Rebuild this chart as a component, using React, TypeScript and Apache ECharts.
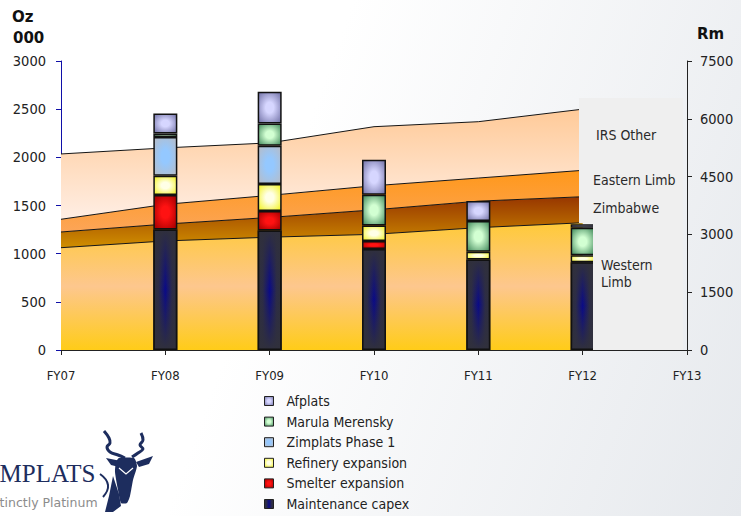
import React, { useEffect, useRef } from 'react';
import * as echarts from 'echarts';

// Financial years on the shared category axis
const categories = ['FY07', 'FY08', 'FY09', 'FY10', 'FY11', 'FY12', 'FY13'];

// Attributable production by region (000 oz), stacked areas
const westernLimb = [1062, 1132, 1171, 1201, 1270, 1321, null];
const zimbabwe = [163, 175, 205, 254, 275, 270, null];
const easternLimb = [132, 205, 229, 250, 240, 274, null];
const irsOther = [678, 586, 545, 613, 585, 635, null];

// Capital expenditure by project (Rm), stacked bars
const maintenanceCapex = [null, 3130, 3100, 2620, 2350, 2280, null];
const smelterExpansion = [null, 890, 510, 210, 0, 0, null];
const refineryExpansion = [null, 500, 700, 400, 200, 180, null];
const zimplatsPhase1 = [null, 1010, 990, 0, 0, 0, null];
const marulaMerensky = [null, 90, 580, 800, 800, 710, null];
const afplats = [null, 520, 820, 910, 520, 95, null];

const legendOrder = [
  'Afplats',
  'Marula Merensky',
  'Zimplats Phase 1',
  'Refinery expansion',
  'Smelter expansion',
  'Maintenance capex',
];

const regionLabels = [
  { text: 'IRS Other', x: 596, y: 135 },
  { text: 'Eastern Limb', x: 593, y: 180 },
  { text: 'Zimbabwe', x: 593, y: 208 },
  { text: 'Western\nLimb', x: 601, y: 273 },
];

const SANS = "'DejaVu Sans', sans-serif";
const COND = "'DejaVu Sans Condensed', 'DejaVu Sans', sans-serif";

// empty / zero capex segments are not drawn
const barData = (arr: (number | null)[]) => arr.map((v) => (v ? v : '-'));

const radial = (edge: string, centre: string) =>
  new echarts.graphic.RadialGradient(0.5, 0.5, 0.72, [
    { offset: 0, color: centre },
    { offset: 0.25, color: centre },
    { offset: 0.9, color: edge },
    { offset: 1, color: edge },
  ]);

const vertical = (stops: [number, string][]) =>
  new echarts.graphic.LinearGradient(
    0,
    0,
    0,
    1,
    stops.map(([offset, color]) => ({ offset, color }))
  );

const maintenanceFill = new echarts.graphic.LinearGradient(0, 0, 1, 0, [
  { offset: 0, color: '#30303c' },
  { offset: 0.2, color: '#2c2c48' },
  { offset: 0.5, color: '#0a0a88' },
  { offset: 0.8, color: '#2c2c48' },
  { offset: 1, color: '#30303c' },
]);

// darkens the maintenance bars towards their top and bottom ends
const maintenanceShade = vertical([
  [0, 'rgba(48,48,60,1)'],
  [0.12, 'rgba(48,48,60,0.75)'],
  [0.5, 'rgba(48,48,60,0)'],
  [0.88, 'rgba(48,48,60,0.75)'],
  [1, 'rgba(48,48,60,1)'],
]);

const areaSeries = (name: string, data: (number | null)[], fill: any) => ({
  name,
  type: 'line',
  stack: 'oz',
  yAxisIndex: 0,
  data,
  symbol: 'none',
  showSymbol: false,
  lineStyle: { color: '#151515', width: 1 },
  areaStyle: { color: fill, opacity: 1 },
  z: 1,
  silent: true,
});

const barSeries = (name: string, data: (number | null)[], fill: any) => ({
  name,
  type: 'bar',
  stack: 'rm',
  yAxisIndex: 1,
  data: barData(data),
  barWidth: 24,
  barGap: '-100%',
  itemStyle: { color: fill, borderColor: '#111111', borderWidth: 1.5 },
  z: 3,
});

const NAVY = '#1d2d5e';

const logoGraphics: any[] = [
  {
    type: 'text',
    x: -24,
    y: 486,
    style: {
      text: 'ZIMPLATS',
      font: "25px 'Liberation Serif', serif",
      fill: NAVY,
      textVerticalAlign: 'bottom',
    },
  },
  {
    type: 'text',
    x: -20,
    y: 509,
    style: {
      text: 'Distinctly Platinum',
      font: `12.5px ${SANS}`,
      fill: '#8c8c8c',
      textVerticalAlign: 'bottom',
    },
  },
  {
    type: 'polyline',
    shape: {
      points: [[104, 431], [109, 438], [110, 443], [107, 447], [110, 452], [118, 455], [125, 458]],
      smooth: 0.4,
    },
    style: { stroke: NAVY, lineWidth: 3, fill: null },
  },
  {
    type: 'polyline',
    shape: {
      points: [[141, 433], [143, 440], [140, 445], [143, 449], [138, 453], [132, 457]],
      smooth: 0.4,
    },
    style: { stroke: NAVY, lineWidth: 3, fill: null },
  },
  {
    type: 'polygon',
    shape: { points: [[106, 458], [121, 461], [119, 467], [111, 465]] },
    style: { fill: NAVY },
  },
  {
    type: 'polygon',
    shape: { points: [[136, 462], [153, 456], [149, 464], [139, 467]] },
    style: { fill: NAVY },
  },
  {
    type: 'polygon',
    shape: {
      points: [[119, 458], [134, 458], [137, 466], [133, 480], [130, 496], [127, 503], [121, 503], [118, 490], [115, 472], [116, 462]],
      smooth: 0.2,
    },
    style: { fill: NAVY },
  },
  {
    type: 'polygon',
    shape: { points: [[113, 476], [119, 494], [121, 506], [113, 512], [105, 512], [109, 496]] },
    style: { fill: NAVY },
  },
  {
    type: 'polyline',
    shape: { points: [[119, 468], [126, 474], [133, 468]] },
    style: { stroke: '#ffffff', lineWidth: 1.2, fill: null },
  },
  {
    type: 'polyline',
    shape: { points: [[100, 474], [108, 485], [103, 497]], smooth: 0.5 },
    style: { stroke: NAVY, lineWidth: 2, fill: null },
  },
];

const plainNumber = (v: number) => String(v);

const option: any = {
  animation: false,
  backgroundColor: 'transparent',
  textStyle: { fontFamily: SANS },
  grid: { left: 61, right: 54, top: 61, bottom: 166, containLabel: false },
  legend: {
    data: legendOrder,
    orient: 'vertical',
    left: 264,
    top: 394,
    padding: 0,
    itemWidth: 9,
    itemHeight: 9,
    itemGap: 6.6,
    icon: 'rect',
    itemStyle: { borderColor: '#222222', borderWidth: 1 },
    textStyle: {
      fontFamily: COND,
      fontSize: 14,
      lineHeight: 14,
      color: '#222222',
      padding: [0, 0, 0, 8],
    },
    selectedMode: false,
  },
  xAxis: {
    type: 'category',
    data: categories,
    boundaryGap: false,
    axisLine: { show: true, lineStyle: { color: '#222222', width: 1 } },
    axisTick: { show: true, length: 5, lineStyle: { color: '#222222' } },
    axisLabel: { fontFamily: COND, fontSize: 13, color: '#222222', margin: 19 },
    splitLine: { show: false },
  },
  yAxis: [
    {
      type: 'value',
      min: 0,
      max: 3000,
      interval: 500,
      position: 'left',
      axisLine: { show: true, lineStyle: { color: '#1010a8', width: 1 } },
      axisTick: { show: true, length: 5, lineStyle: { color: '#1010a8' } },
      axisLabel: { fontFamily: COND, fontSize: 14.5, color: '#222222', margin: 15, formatter: plainNumber },
      splitLine: { show: false },
    },
    {
      type: 'value',
      min: 0,
      max: 7500,
      interval: 1500,
      position: 'right',
      axisLine: { show: true, lineStyle: { color: '#222222', width: 1 } },
      axisTick: { show: true, length: 5, lineStyle: { color: '#222222' } },
      axisLabel: { fontFamily: COND, fontSize: 14.5, color: '#222222', margin: 13, formatter: plainNumber },
      splitLine: { show: false },
    },
  ],
  series: [
    areaSeries(
      'Western Limb',
      westernLimb,
      vertical([
        [0, '#ffca38'],
        [0.5, '#fdc78e'],
        [1, '#ffcc18'],
      ])
    ),
    areaSeries(
      'Zimbabwe',
      zimbabwe,
      vertical([
        [0, '#973600'],
        [1, '#d08f00'],
      ])
    ),
    areaSeries(
      'Eastern Limb',
      easternLimb,
      vertical([
        [0, '#ff981a'],
        [1, '#fca558'],
      ])
    ),
    areaSeries(
      'IRS Other',
      irsOther,
      vertical([
        [0, '#ffca98'],
        [1, '#ffeee4'],
      ])
    ),
    barSeries('Maintenance capex', maintenanceCapex, maintenanceFill),
    barSeries('Smelter expansion', smelterExpansion, radial('#a80000', '#ff1212')),
    barSeries('Refinery expansion', refineryExpansion, radial('#f4f42c', '#ffffe6')),
    barSeries('Zimplats Phase 1', zimplatsPhase1, radial('#b4bdcb', '#94c8ff')),
    barSeries('Marula Merensky', marulaMerensky, radial('#4c9264', '#d2ffd2')),
    barSeries('Afplats', afplats, radial('#7a7aae', '#d6d6ff')),
    {
      name: 'maintenance-shade',
      type: 'bar',
      yAxisIndex: 1,
      data: barData(maintenanceCapex),
      barWidth: 24,
      barGap: '-100%',
      itemStyle: { color: maintenanceShade, borderColor: '#111111', borderWidth: 1.5 },
      z: 4,
      silent: true,
    },
  ],
  graphic: [
    {
      type: 'polygon',
      z: 10,
      shape: {
        points: [[579, 98], [683, 98], [683, 350], [593, 350], [593, 223], [579, 223]],
      },
      style: { fill: '#efefef' },
      silent: true,
    },
    ...regionLabels.map((l) => ({
      type: 'text',
      z: 11,
      x: l.x,
      y: l.y,
      style: {
        text: l.text,
        font: `14px ${COND}`,
        fill: '#2a2a2a',
        textVerticalAlign: 'middle',
        lineHeight: 17,
      },
    })),
    {
      type: 'text',
      x: 12,
      y: 17,
      style: { text: 'Oz', font: `bold 15px ${SANS}`, fill: '#111111', textVerticalAlign: 'middle' },
    },
    {
      type: 'text',
      x: 13,
      y: 38,
      style: { text: '000', font: `bold 15px ${SANS}`, fill: '#111111', textVerticalAlign: 'middle' },
    },
    {
      type: 'text',
      x: 697,
      y: 34,
      style: { text: 'Rm', font: `bold 15px ${SANS}`, fill: '#111111', textVerticalAlign: 'middle' },
    },
    ...logoGraphics,
  ],
};

export default function App() {
  const ref = useRef<HTMLDivElement>(null);

  useEffect(() => {
    if (!ref.current) return;
    const chart = echarts.init(ref.current, null, { renderer: 'svg' });
    chart.setOption(option);
    return () => chart.dispose();
  }, []);

  return (
    <div
      ref={ref}
      style={{
        position: 'fixed',
        left: 0,
        top: 0,
        width: 741,
        height: 516,
        background: 'linear-gradient(110deg, #ffffff 38%, #e6e9ed 100%)',
      }}
    />
  );
}
